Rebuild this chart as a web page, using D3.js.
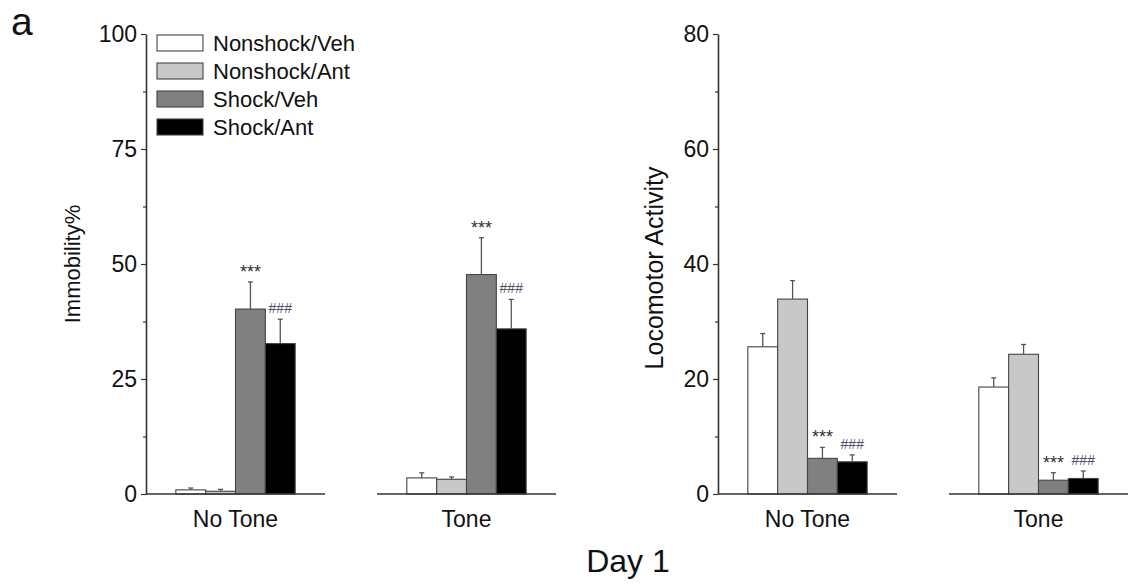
<!DOCTYPE html>
<html>
<head>
<meta charset="utf-8">
<script src="https://cdn.jsdelivr.net/npm/d3@7"></script>
<style>
  body { margin: 0; background: #fff; }
  svg { font-family: "Liberation Sans", Arial, sans-serif; }
</style>
</head>
<body>
<svg width="1130" height="585"></svg>
<script>
var groups = ["No Tone", "Tone"];
var series = ["Nonshock/Veh", "Nonshock/Ant", "Shock/Veh", "Shock/Ant"];
var colors = ["#ffffff", "#c8c8c8", "#808080", "#000000"];

// Immobility% (mean, SEM) per group, in series order
var immMean = [[0.9, 0.6, 40.2, 32.7], [3.5, 3.2, 47.7, 35.9]];
var immErr = [[0.4, 0.4, 5.9, 5.3], [1.1, 0.5, 8.0, 6.4]];
// Locomotor activity
var locMean = [[25.6, 33.9, 6.2, 5.6], [18.6, 24.3, 2.4, 2.7]];
var locErr = [[2.3, 3.2, 1.9, 1.2], [1.6, 1.7, 1.3, 1.3]];

var immTicks = [0, 25, 50, 75, 100];
var locTicks = [0, 20, 40, 60, 80];

// significance marks: [group, series, text]
var immMarks = [[0, 2, "***"], [0, 3, "###"], [1, 2, "***"], [1, 3, "###"]];
var locMarks = [[0, 2, "***"], [0, 3, "###"], [1, 2, "***"], [1, 3, "###"]];

var svg = d3.select("svg");
var top0 = 34, bottom0 = 494;

function panel(opts) {
  var y = d3.scaleLinear().domain([0, opts.max]).range([bottom0, top0]);
  var x0 = d3.scaleBand().domain(groups).range(opts.xRange).paddingInner(0.225).paddingOuter(0);
  var x1 = d3.scaleBand().domain(series).range([0, x0.bandwidth()]).paddingInner(0).paddingOuter(1);

  var g = svg.append("g");

  // minor ticks
  var minor = [];
  for (var i = 0; i < opts.ticks.length - 1; i++) minor.push((opts.ticks[i] + opts.ticks[i + 1]) / 2);
  g.append("g")
    .attr("transform", "translate(" + opts.xRange[0] + ",0)")
    .call(d3.axisLeft(y).tickValues(minor).tickSize(3).tickFormat(""))
    .call(function(s) { s.select(".domain").remove(); })
    .selectAll("line").attr("stroke", "#333").attr("stroke-width", 1.2);

  var ax = g.append("g")
    .attr("transform", "translate(" + opts.xRange[0] + ",0)")
    .call(d3.axisLeft(y).tickValues(opts.ticks).tickSize(5).tickSizeOuter(0).tickPadding(4));
  ax.select(".domain").attr("stroke", "#333").attr("stroke-width", 1.6);
  ax.selectAll(".tick line").attr("stroke", "#333").attr("stroke-width", 1.2);
  ax.selectAll(".tick text").attr("font-size", 23).attr("fill", "#111")
    .attr("font-family", "Liberation Sans, Arial, sans-serif");

  g.append("text")
    .attr("transform", "translate(" + opts.labelX + "," + opts.labelY + ") rotate(-90)")
    .attr("text-anchor", "middle")
    .attr("font-size", opts.labelSize)
    .attr("fill", "#111")
    .text(opts.label);

  groups.forEach(function(grp, gi) {
    var gx = x0(grp);
    var gg = g.append("g").attr("transform", "translate(" + gx + ",0)");

    var rows = series.map(function(s, si) {
      return { s: s, si: si, v: opts.mean[gi][si], e: opts.err[gi][si] };
    });

    gg.selectAll("rect").data(rows).enter().append("rect")
      .attr("x", function(d) { return x1(d.s); })
      .attr("y", function(d) { return y(d.v); })
      .attr("width", x1.bandwidth())
      .attr("height", function(d) { return y(0) - y(d.v); })
      .attr("fill", function(d) { return colors[d.si]; })
      .attr("stroke", "#444")
      .attr("stroke-width", 1.1);

    var eb = gg.selectAll(".eb").data(rows).enter().append("g").attr("class", "eb");
    eb.append("line")
      .attr("x1", function(d) { return x1(d.s) + x1.bandwidth() / 2; })
      .attr("x2", function(d) { return x1(d.s) + x1.bandwidth() / 2; })
      .attr("y1", function(d) { return y(d.v); })
      .attr("y2", function(d) { return y(d.v + d.e); })
      .attr("stroke", "#555").attr("stroke-width", 1.3);
    eb.append("line")
      .attr("x1", function(d) { return x1(d.s) + x1.bandwidth() / 2 - 2.5; })
      .attr("x2", function(d) { return x1(d.s) + x1.bandwidth() / 2 + 2.5; })
      .attr("y1", function(d) { return y(d.v + d.e); })
      .attr("y2", function(d) { return y(d.v + d.e); })
      .attr("stroke", "#555").attr("stroke-width", 1.3);

    // baseline
    gg.append("line")
      .attr("x1", 0).attr("x2", x0.bandwidth())
      .attr("y1", y(0)).attr("y2", y(0))
      .attr("stroke", "#333").attr("stroke-width", 1.6);

    gg.append("text")
      .attr("x", x0.bandwidth() / 2)
      .attr("y", 527)
      .attr("text-anchor", "middle")
      .attr("font-size", 23)
      .attr("fill", "#111")
      .text(grp);

    opts.marks.filter(function(m) { return m[0] === gi; }).forEach(function(m) {
      var d = rows[m[1]];
      var star = m[2] === "***";
      gg.append("text")
        .attr("x", x1(d.s) + x1.bandwidth() / 2)
        .attr("y", y(d.v + d.e) - (star ? 4 : 6))
        .attr("text-anchor", "middle")
        .attr("font-size", star ? 18 : 14)
        .attr("fill", star ? "#333" : "#4c5068")
        .text(m[2]);
    });
  });
}

panel({ max: 100, ticks: immTicks, xRange: [146, 556], mean: immMean, err: immErr,
  label: "Immobility%", labelX: 80, labelY: 264, labelSize: 22, marks: immMarks });
panel({ max: 80, ticks: locTicks, xRange: [718, 1128], mean: locMean, err: locErr,
  label: "Locomotor Activity", labelX: 663, labelY: 268, labelSize: 25, marks: locMarks });

// legend
var leg = svg.append("g").attr("transform", "translate(157,35)");
var li = leg.selectAll("g").data(series).enter().append("g")
  .attr("transform", function(d, i) { return "translate(0," + i * 28 + ")"; });
li.append("rect").attr("width", 46).attr("height", 16)
  .attr("fill", function(d, i) { return colors[i]; })
  .attr("stroke", "#444").attr("stroke-width", 1.1);
li.append("text").attr("x", 56).attr("y", 8).attr("dy", "0.36em")
  .attr("font-size", 22).attr("fill", "#111").text(function(d) { return d; });

svg.append("text").attr("x", 11).attr("y", 35).attr("font-size", 39).attr("fill", "#111").text("a");
svg.append("text").attr("x", 628).attr("y", 572).attr("text-anchor", "middle")
  .attr("font-size", 32).attr("fill", "#111").text("Day 1");
</script>
</body>
</html>
